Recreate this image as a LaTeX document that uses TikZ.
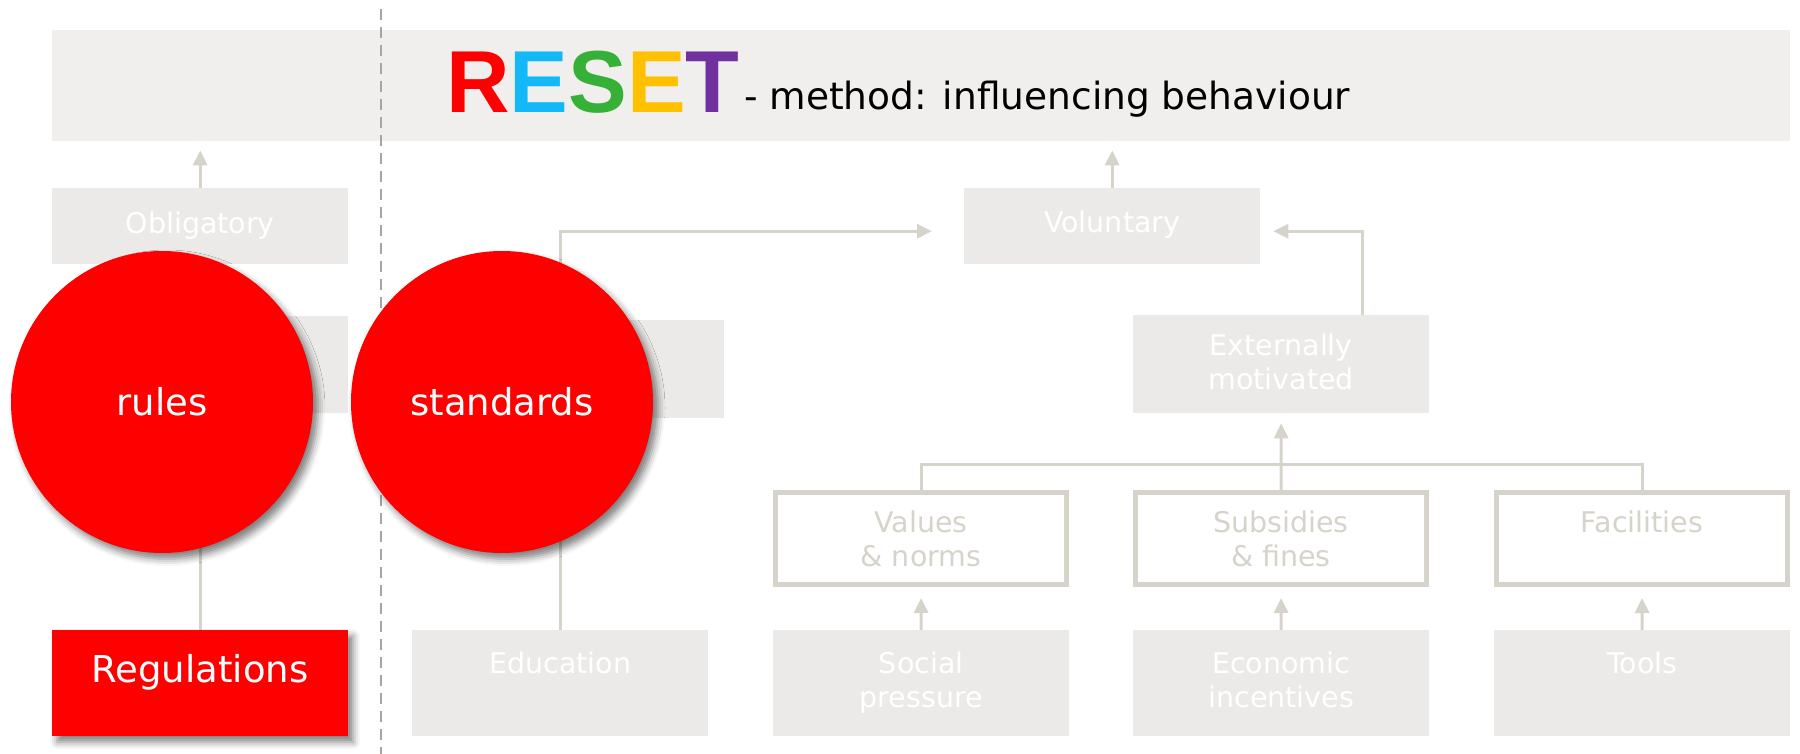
\documentclass[tikz,border=0pt]{standalone}
\usepackage{fontspec}
\setmainfont{DejaVu Sans}
\newfontfamily\resetfont{Liberation Sans}
\usetikzlibrary{arrows.meta,shadows.blur,calc}
\definecolor{bannerclr}{HTML}{F0EFED}
\definecolor{boxclr}{HTML}{EBEAE8}
\definecolor{lineclr}{HTML}{D6D3CB}
\definecolor{dashclr}{HTML}{ABA49C}
\definecolor{rred}{HTML}{FF0000}
\definecolor{rblue}{HTML}{12B9F6}
\definecolor{rgreen}{HTML}{37B037}
\definecolor{ryellow}{HTML}{FFC000}
\definecolor{rpurple}{HTML}{7030A0}
\newcommand{\myst}{\rule{0pt}{30pt}}
\tikzset{
  greybox/.style={fill=boxclr, minimum width=296pt, inner sep=0pt, anchor=north west},
  outbox/.style={draw=lineclr, line width=5pt, fill=white, minimum width=291pt, minimum height=92pt, inner sep=0pt},
  lbl/.style={text=white, font=\fontsize{28.5}{34}\selectfont, align=center, anchor=north, inner sep=0pt},
  olbl/.style={lbl, text=lineclr},
  redlbl/.style={text=white, font=\fontsize{37}{44}\selectfont, inner sep=0pt},
  conn/.style={draw=lineclr, line width=3pt, -{Triangle[length=15pt,width=14pt]}},
  plainline/.style={draw=lineclr, line width=3pt},
  softshadow/.style={blur shadow={shadow xshift=5pt, shadow yshift=-6pt, shadow blur radius=7pt, shadow opacity=50}},
  redball/.style={circle, fill=rred, minimum size=302pt, inner sep=0pt, softshadow},
}
\begin{document}
\begin{tikzpicture}[x=1pt,y=-1pt]
\useasboundingbox (0,0) rectangle (1800,754);
% banner
\node[fill=bannerclr, minimum width=1738pt, minimum height=111pt, inner sep=0pt, anchor=north west] (banner) at (52,30) {};
\node[anchor=base west, inner sep=0pt, font=\resetfont\bfseries\fontsize{88}{88}\selectfont] (reset) at (446,113)
  {\textcolor{rred}{R}\textcolor{rblue}{E}\textcolor{rgreen}{S}\textcolor{ryellow}{E}\textcolor{rpurple}{T}};
\node[anchor=base west, inner sep=0pt, font=\fontsize{37.5}{44}\selectfont] (title) at (744,110) {- method: influencing behaviour};
% divider
\coordinate (dtop) at (381,9);
\coordinate (dbot) at (381,754);
\draw[dashclr, line width=2pt, dash pattern=on 11pt off 7pt] (dtop) -- (dbot);

% boxes
\node[greybox, minimum height=76pt] (obl) at (52,188) {};
\node[greybox, minimum height=97pt] (hid1) at (52,316) {};
\node[greybox, fill=rred, minimum height=106pt, softshadow] (reg) at (52,630) {};
\node[greybox, minimum height=98pt] (hid2) at (428,320) {};
\node[greybox, minimum height=106pt] (edu) at (412,630) {};
\node[greybox, minimum height=76pt] (vol) at (964,188) {};
\node[greybox, minimum height=98pt] (ext) at (1133,315) {};
\node[outbox] (val) at (921,538.5) {};
\node[outbox] (sub) at (1281,538.5) {};
\node[outbox] (fac) at (1642,538.5) {};
\node[greybox, minimum height=106pt] (soc) at (773,630) {};
\node[greybox, minimum height=106pt] (eco) at (1133,630) {};
\node[greybox, minimum height=106pt] (tools) at (1494,630) {};

% connectors
\coordinate (volL) at ([xshift=-32pt,yshift=-5pt]vol.west);
\coordinate (volR) at ([xshift=13pt,yshift=-5pt]vol.east);
\coordinate (branchL) at ([yshift=26pt]val.north);
\draw[conn, shorten >=9pt] (obl.north) -- (obl.north |- banner.south);
\draw[conn, shorten >=9pt] (vol.north) -- (vol.north |- banner.south);
\draw[plainline] (reg.north) -- (hid1.south);
\draw[conn] (edu.north) |- (volL);
\draw[conn] ([xshift=81pt]ext.north) |- (volR);
\draw[plainline] (val.north) -- (branchL) -| (fac.north);
\draw[conn, shorten >=10pt] (sub.north) -- (ext.south);
\draw[conn, shorten >=11pt] (soc.north) -- (val.south);
\draw[conn, shorten >=11pt] (eco.north) -- (sub.south);
\draw[conn, shorten >=11pt] (tools.north) -- (fac.south);

% boxes redrawn over the connectors that run into them
\node[greybox, minimum height=97pt] (hid1b) at (52,316) {};
\node[greybox, minimum height=98pt] (hid2b) at (428,320) {};
\node[outbox] (valb) at (921,538.5) {};
\node[outbox] (subb) at (1281,538.5) {};
\node[outbox] (facb) at (1642,538.5) {};

% labels
\node[lbl] (oblT) at ([yshift=-15pt]obl.north) {\myst Obligatory};
\node[lbl] (volT) at ([yshift=-14pt]vol.north) {\myst Voluntary};
\node[lbl] (extT) at ([yshift=-10pt]ext.north) {\myst Externally\\motivated};
\node[olbl] (valT) at ([yshift=-12.5pt]val.north) {\myst Values\\\& norms};
\node[olbl] (subT) at ([yshift=-12.5pt]sub.north) {\myst Subsidies\\\& fines};
\node[olbl] (facT) at ([yshift=-12.5pt]fac.north) {\myst Facilities};
\node[lbl] (eduT) at ([yshift=-13pt]edu.north) {\myst Education};
\node[lbl] (socT) at ([yshift=-13pt]soc.north) {\myst Social\\pressure};
\node[lbl] (ecoT) at ([yshift=-13pt]eco.north) {\myst Economic\\incentives};
\node[lbl] (toolsT) at ([yshift=-13pt]tools.north) {\myst Tools};
\node[redlbl, anchor=base] (regT) at (200,682) {Regulations};

% red circles
\node[redball] (rules) at (162,402) {};
\node[redball] (std) at (502,402) {};
\node[redlbl] (rulesT) at (rules.center) {rules};
\node[redlbl] (stdT) at (std.center) {standards};
\end{tikzpicture}
\end{document}
